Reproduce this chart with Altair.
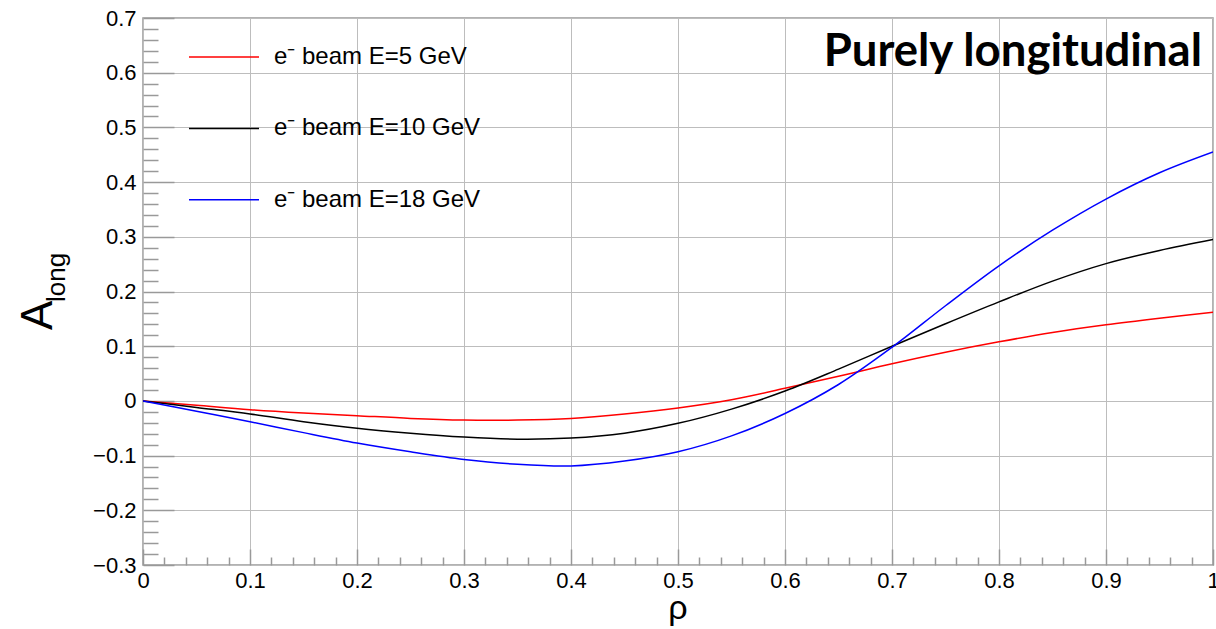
import altair as alt
import pandas as pd

# ---- data ----
rho = [0.00, 0.05, 0.10, 0.15, 0.20, 0.25, 0.30, 0.35, 0.40, 0.45, 0.50,
       0.55, 0.60, 0.65, 0.70, 0.75, 0.80, 0.85, 0.90, 0.95, 1.00]
a_e5 = [0.000, -0.008, -0.016, -0.022, -0.027, -0.032, -0.035, -0.035, -0.032, -0.024, -0.013,
        0.002, 0.023, 0.045, 0.068, 0.089, 0.108, 0.125, 0.139, 0.151, 0.162]
a_e10 = [0.000, -0.012, -0.024, -0.038, -0.050, -0.059, -0.066, -0.070, -0.068, -0.059, -0.041,
         -0.015, 0.018, 0.058, 0.100, 0.141, 0.181, 0.219, 0.251, 0.275, 0.295]
a_e18 = [0.000, -0.019, -0.038, -0.058, -0.077, -0.093, -0.107, -0.116, -0.119, -0.110, -0.093,
         -0.064, -0.023, 0.030, 0.098, 0.174, 0.247, 0.312, 0.369, 0.417, 0.455]

series_names = ["e\u207b beam E=5 GeV", "e\u207b beam E=10 GeV", "e\u207b beam E=18 GeV"]
series_colors = ["#ff0000", "#000000", "#0000ff"]

x_major = [0, 0.1, 0.2, 0.3, 0.4, 0.5, 0.6, 0.7, 0.8, 0.9, 1.0]
y_major = [-0.3, -0.2, -0.1, 0, 0.1, 0.2, 0.3, 0.4, 0.5, 0.6, 0.7]
x_minor = [round(i * 0.02, 2) for i in range(51) if i % 5 != 0]
y_minor = [round(-0.3 + i * 0.02, 2) for i in range(51) if i % 5 != 0]

title_text = ["Purely longitudinal"]
ytitle_main = ["A"]
ytitle_sub = ["long"]
xtitle = ["\u03c1"]

rows = []
for name, vals in zip(series_names, [a_e5, a_e10, a_e18]):
    for r, v in zip(rho, vals):
        rows.append({"rho": r, "value": v, "series": name})
df = pd.DataFrame(rows)

W, H = 1070, 547
FONT = "Liberation Sans"
GRID = "#bdbdbd"
TICK = "#999999"

x_scale = alt.Scale(domain=[0, 1], nice=False, zero=False)
y_scale = alt.Scale(domain=[-0.3, 0.7], nice=False, zero=False)

base = alt.Chart(df)

lines = base.mark_line(strokeWidth=1.5, interpolate="catmull-rom", clip=True).encode(
    x=alt.X("rho:Q", scale=x_scale,
            axis=alt.Axis(values=x_major, format="~g", title=None, ticks=False, tickSize=0,
                          labelPadding=5, labelFontSize=22, labelFont=FONT, labelColor="black",
                          labelFlush=False, labelOverlap=False, grid=True, gridColor=GRID,
                          gridWidth=1, domain=False)),
    y=alt.Y("value:Q", scale=y_scale,
            axis=alt.Axis(values=y_major, format="~g", title=None, ticks=False, tickSize=0,
                          labelPadding=7, labelFontSize=22, labelFont=FONT, labelColor="black",
                          labelOverlap=False, grid=True, gridColor=GRID, gridWidth=1,
                          domain=False)),
    color=alt.Color("series:N",
                    scale=alt.Scale(domain=series_names, range=series_colors),
                    legend=alt.Legend(orient="none", legendX=45, legendY=3, title=None,
                                      symbolType="stroke", symbolSize=4900,
                                      symbolStrokeWidth=1.5, labelFontSize=24,
                                      labelFont=FONT, labelColor="black", labelOffset=14,
                                      rowPadding=23.4, padding=0, labelLimit=500)),
)

major_ticks = base.mark_line(strokeOpacity=0).encode(
    x=alt.X("rho:Q", scale=x_scale,
            axis=alt.Axis(orient="top", offset=-H, values=x_major, labels=False, ticks=True,
                          tickSize=16, tickColor=TICK, tickWidth=1.5, grid=False,
                          domain=False, title=None)),
    y=alt.Y("value:Q", scale=y_scale,
            axis=alt.Axis(orient="right", offset=-W, values=y_major, labels=False, ticks=True,
                          tickSize=31, tickColor=TICK, tickWidth=1.5, grid=False,
                          domain=False, title=None)),
    detail="series:N",
)

minor_ticks = base.mark_line(strokeOpacity=0).encode(
    x=alt.X("rho:Q", scale=x_scale,
            axis=alt.Axis(orient="top", offset=-H, values=x_minor, labels=False, ticks=True,
                          tickSize=8, tickColor=TICK, tickWidth=1.5, grid=False,
                          domain=False, title=None)),
    y=alt.Y("value:Q", scale=y_scale,
            axis=alt.Axis(orient="right", offset=-W, values=y_minor, labels=False, ticks=True,
                          tickSize=15, tickColor=TICK, tickWidth=1.5, grid=False,
                          domain=False, title=None)),
    detail="series:N",
)

title = alt.Chart(pd.DataFrame({"t": title_text})).mark_text(
    font="Lato", fontWeight="bold", fontSize=45.5, align="right", baseline="alphabetic",
    color="black").encode(text="t:N", x=alt.value(W - 11), y=alt.value(48))

ya = alt.Chart(pd.DataFrame({"t": ytitle_main})).mark_text(
    font=FONT, fontSize=44, angle=270, align="left", baseline="alphabetic",
    color="black").encode(text="t:N", x=alt.value(-91), y=alt.value(312))

yb = alt.Chart(pd.DataFrame({"t": ytitle_sub})).mark_text(
    font=FONT, fontSize=26, angle=270, align="left", baseline="alphabetic",
    color="black").encode(text="t:N", x=alt.value(-78), y=alt.value(284))

xt = alt.Chart(pd.DataFrame({"t": xtitle})).mark_text(
    font=FONT, fontSize=34, align="center", baseline="alphabetic",
    color="black").encode(text="t:N", x=alt.value(W / 2), y=alt.value(601))

chart = alt.layer(lines, major_ticks, minor_ticks, title, ya, yb, xt).resolve_axis(
    x="independent", y="independent"
).properties(
    width=W, height=H,
    padding={"left": 143, "top": 18, "right": 3, "bottom": 64},
    autosize=alt.AutoSizeParams(type="none"),
    background="white",
).configure_view(stroke="#999999", strokeWidth=1.5)

chart.save("out.html", embed_options={"renderer": "svg", "actions": False})
